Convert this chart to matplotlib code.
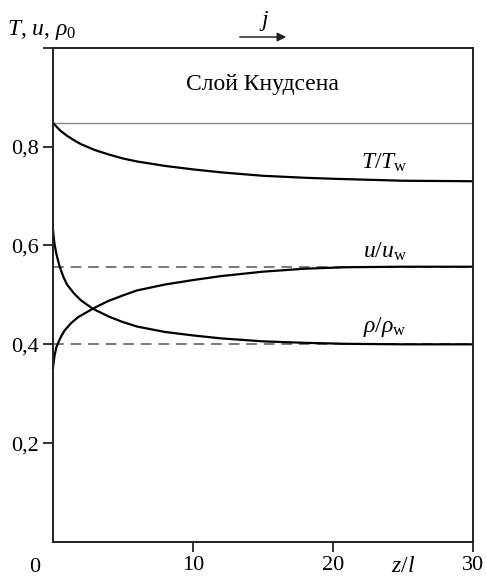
import matplotlib
matplotlib.use("Agg")
import matplotlib.pyplot as plt

# значения
z_T = [0, 0.5, 1, 1.5, 2, 3, 4, 5, 6, 8, 10, 12, 15, 18, 20, 25, 30]
T_vals = [0.848, 0.833, 0.822, 0.813, 0.805, 0.793, 0.784, 0.776, 0.770,
          0.761, 0.754, 0.748, 0.741, 0.737, 0.735, 0.731, 0.730]

z_u = [0, 0.05, 0.1, 0.24, 0.4, 0.6, 0.83, 1.3, 1.8, 2.84, 3.9, 5, 6, 8, 10, 12, 15, 18, 21, 25, 30]
u_vals = [0.351, 0.364, 0.375, 0.394, 0.405, 0.417, 0.428, 0.443, 0.455, 0.472,
          0.487, 0.499, 0.509, 0.521, 0.530, 0.538, 0.547, 0.553, 0.556, 0.557, 0.557]

z_rho = [0, 0.05, 0.1, 0.24, 0.47, 0.75, 1, 1.5, 2, 2.84, 4, 5, 6, 8, 10, 12, 15, 18, 21, 25, 30]
rho_vals = [0.633, 0.618, 0.605, 0.583, 0.558, 0.536, 0.521, 0.503, 0.489, 0.472,
            0.456, 0.445, 0.436, 0.425, 0.418, 0.412, 0.406, 0.403, 0.401, 0.400, 0.400]

knudsen_top = 0.848
u_limit = 0.557
rho_limit = 0.400

y_ticks = [0.2, 0.4, 0.6, 0.8, 1.0]
y_tick_labels = ["0,2", "0,4", "0,6", "0,8", ""]
x_ticks = [10, 20, 30]
x_tick_labels = ["10", "20", "30"]

plt.rcParams['font.family'] = ['Liberation Serif', 'DejaVu Serif']
plt.rcParams['mathtext.fontset'] = 'custom'
plt.rcParams['mathtext.rm'] = 'Liberation Serif'
plt.rcParams['mathtext.it'] = 'Liberation Serif:italic'

fig = plt.figure(figsize=(4.86, 5.78), dpi=100)
ax = fig.add_axes([0.109, 0.0623, 0.864, 0.855])

dark = '#222222'
ax.axhline(knudsen_top, color='#888888', lw=1.0)
ax.axhline(u_limit, color='#555555', lw=1.1, ls=(0, (7, 4.5)))
ax.axhline(rho_limit, color='#555555', lw=1.1, ls=(0, (7, 4.5)))

ax.plot(z_T, T_vals, color='black', lw=1.6)
ax.plot(z_u, u_vals, color='black', lw=1.6)
ax.plot(z_rho, rho_vals, color='black', lw=1.6)

ax.set_xlim(0, 30)
ax.set_ylim(0, 1.0)
ax.set_yticks(y_ticks)
ax.set_yticklabels(y_tick_labels)
ax.set_xticks(x_ticks)
ax.set_xticklabels(x_tick_labels)
ax.tick_params(direction='out', length=7, width=1.3, color=dark,
               labelsize=16, pad=3)
for s in ax.spines.values():
    s.set_linewidth(1.4)
    s.set_color(dark)

fs = 17
ax.text(15, 0.925, "Слой Кнудсена", ha='center', va='center', fontsize=fs)
ax.text(23.7, 0.768, r"$T/T_\mathrm{w}$", ha='center', va='center', fontsize=fs)
ax.text(23.7, 0.587, r"$u/u_\mathrm{w}$", ha='center', va='center', fontsize=fs)
ax.text(23.7, 0.436, r"$\rho/\rho_\mathrm{w}$", ha='center', va='center', fontsize=fs)

# подписи осей
fig.text(35 / 486, 1 - 567 / 578, "0", ha='center', va='center', fontsize=16)
fig.text(403 / 486, 1 - 566 / 578, r"$z/l$", ha='center', va='center', fontsize=fs)
fig.text(7 / 486, 1 - 30 / 578, r"$T$, $u$, $\rho_0$", ha='left', va='center', fontsize=fs)

# стрелка потока
fig.text(264 / 486, 1 - 21 / 578, r"$j$", ha='center', va='center', fontsize=fs)
ax.annotate("", xy=(289 / 486, 1 - 37 / 578), xytext=(237 / 486, 1 - 37 / 578),
            xycoords='figure fraction', textcoords='figure fraction',
            arrowprops=dict(arrowstyle='-|>', color=dark, lw=1.1,
                            mutation_scale=13), annotation_clip=False)

fig.savefig("out.png", dpi=100)
